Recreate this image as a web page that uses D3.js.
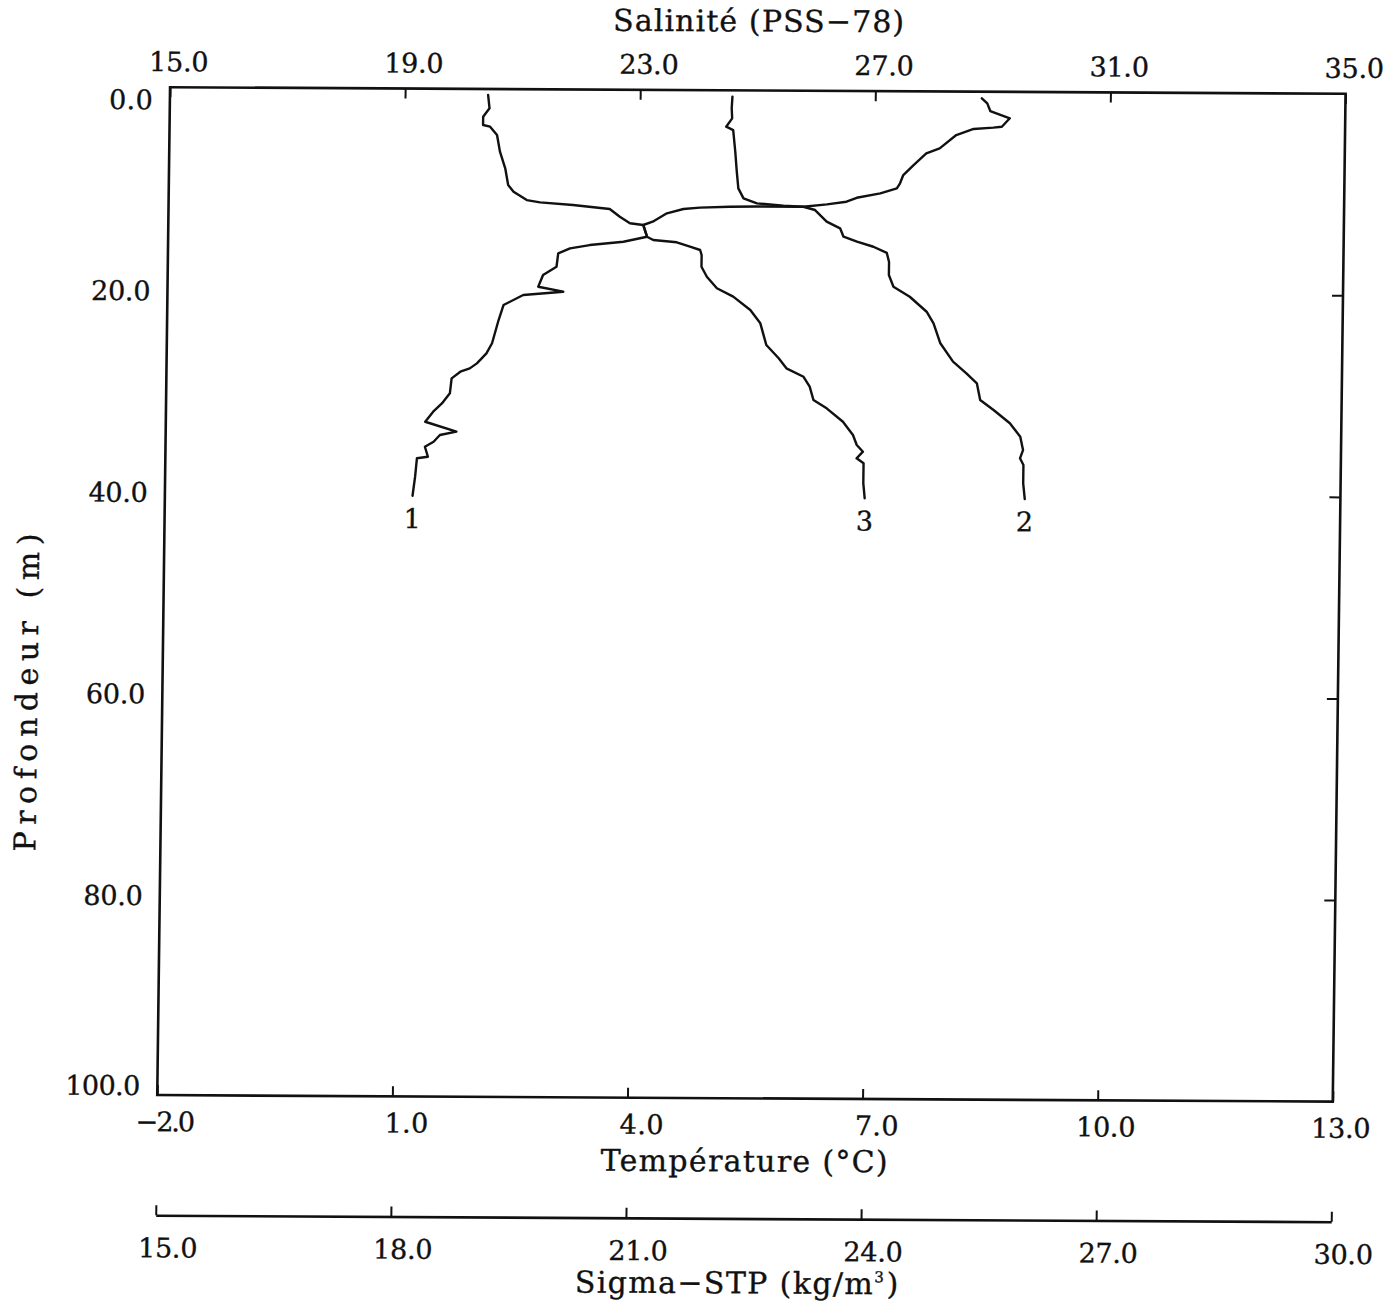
<!DOCTYPE html>
<html>
<head>
<meta charset="utf-8">
<script src="https://cdn.jsdelivr.net/npm/d3@7"></script>
<style>
  html, body { margin: 0; padding: 0; background: #fff; }
  svg { display: block; }
  text { font-family: "DejaVu Serif", "Liberation Serif", serif; font-size: 27px; fill: #111;
         stroke: #111; stroke-width: 0.35px; }
  text.title { font-size: 30px; }
</style>
</head>
<body>
<svg id="chart" width="1390" height="1302"></svg>
<script>
// CTD profiles, each point is [depth (m), value]
const temperature = [
  [0.65,8.36],[1.15,8.43],[1.91,8.47],[2.62,8.72],[3.46,8.62],[3.56,8.51],[3.70,8.26],
  [4.31,8.04],[5.64,7.83],[6.14,7.66],[7.31,7.50],[8.31,7.37],[9.13,7.33],[9.63,7.29],
  [10.14,7.08],[10.59,6.78],[10.99,6.65],[11.26,6.40],[11.51,6.10],[11.51,5.50],
  [11.55,5.16],[11.66,4.78],[11.80,4.57],[12.24,4.36],[13.08,4.18],[13.41,4.06],
  [14.57,4.11],[15.08,3.81],[15.43,3.38],[15.77,3.13],[16.27,2.98],[17.60,2.96],
  [18.43,2.79],[19.59,2.73],[20.07,3.05],[20.42,2.54],[21.43,2.29],[22.92,2.23],
  [25.23,2.15],[26.23,2.08],[27.23,1.96],[27.73,1.87],[28.07,1.75],[28.73,1.64],
  [30.22,1.62],[31.22,1.52],[32.05,1.41],[33.05,1.31],[34.02,1.71],[34.36,1.50],
  [35.03,1.42],[35.53,1.31],[36.52,1.35],[36.68,1.21],[38.51,1.19],[40.40,1.16]
];
const salinity = [
  [0.63,24.57],[1.78,24.56],[2.78,24.57],[3.61,24.47],[3.94,24.59],[6.09,24.63],
  [8.07,24.66],[9.72,24.69],[10.71,24.78],[11.20,25.01],[11.42,25.46],[11.51,25.80],
  [11.83,26.00],[12.98,26.20],[13.63,26.43],[14.46,26.49],[14.95,26.72],[15.44,27.00],
  [16.05,27.23],[16.95,27.27],[18.24,27.27],[19.40,27.35],[20.38,27.63],[21.86,27.92],
  [23.00,28.04],[24.98,28.16],[26.80,28.38],[27.95,28.61],[28.93,28.79],[30.59,28.85],
  [31.57,29.08],[32.88,29.36],[34.21,29.54],[35.53,29.59],[36.35,29.54],[37.01,29.60],
  [38.83,29.60],[40.40,29.63]
];
const sigmaT = [
  [0.60,19.06],[1.92,19.08],[2.75,19.00],[3.58,19.00],[3.74,19.09],[4.56,19.18],
  [6.22,19.22],[7.86,19.29],[9.52,19.33],[10.18,19.40],[11.00,19.57],[11.22,19.74],
  [11.47,20.16],[11.84,20.63],[12.60,20.76],[13.25,20.89],[13.41,21.06],[14.57,21.11],
  [14.89,21.19],[15.11,21.49],[15.54,21.66],[15.86,21.79],[16.36,21.81],[17.52,21.81],
  [18.51,21.88],[19.65,22.01],[20.47,22.22],[21.79,22.44],[23.10,22.57],[25.25,22.65],
  [26.56,22.81],[27.55,22.91],[28.38,23.13],[29.36,23.21],[30.68,23.26],[31.50,23.43],
  [32.82,23.64],[34.13,23.77],[35.12,23.82],[35.78,23.90],[36.44,23.82],[36.93,23.91],
  [38.92,23.91],[40.40,23.93]
];

// Axis ticks and labels
const depthTicks = [0, 20, 40, 60, 80, 100];
const tempTicks = [-2, 1, 4, 7, 10, 13];
const salTicks = [15, 19, 23, 27, 31, 35];
const sigmaTicks = [15, 18, 21, 24, 27, 30];
const profileNames = ["1", "2", "3"];
const titleTop = "Salinité (PSS\u221278)";
const titleBottom = "Température (°C)";
const titleSigma = "Sigma\u2212STP (kg/m";
const titleSigmaSup = "3";
const titleLeft = "Profondeur (m)";

// Plot frame
const W = 1175.5, H = 1007.85;
const fmt = d3.format(".1f");
// fixed-pitch look of the plotter lettering
const labelWidth = s => s.length * 15.6 - 3;

const y = d3.scaleLinear().domain([0, 100]).range([0, H]);
const xT = d3.scaleLinear().domain([-2, 13]).range([0, W]);
const xS = d3.scaleLinear().domain([15, 35]).range([0, W]);
const xSig = d3.scaleLinear().domain([15, 30]).range([0, W]);

const svg = d3.select("#chart");
// The plotted sheet sits slightly askew on the page
const g = svg.append("g")
  .attr("transform", "matrix(1,0.00557,-0.0127,1,170.05,87.2)");

const ink = "#111";

function styleAxis(sel) {
  sel.attr("font-size", null).attr("font-family", null);
  sel.selectAll(".tick line").attr("stroke", ink).attr("stroke-width", 2);
  sel.selectAll(".domain").attr("stroke", ink).attr("stroke-width", 2.6);
  sel.selectAll("text").attr("fill", ink)
    .attr("textLength", function () { return labelWidth(this.textContent); });
}

// Top: salinity
g.append("g")
  .call(d3.axisTop(xS).tickValues(salTicks).tickSizeInner(-10).tickSizeOuter(0)
    .tickPadding(16).tickFormat(fmt))
  .call(a => a.select(".domain").remove())
  .call(styleAxis)
  .call(a => a.selectAll("text").attr("dx", 8));

// Bottom: temperature
g.append("g")
  .attr("transform", `translate(0,${H})`)
  .call(d3.axisBottom(xT).tickValues(tempTicks).tickSizeInner(-10).tickSizeOuter(0)
    .tickPadding(17).tickFormat(fmt))
  .call(a => a.select(".domain").remove())
  .call(styleAxis)
  .call(a => a.selectAll("text").attr("dx", d => fmt(d).length < 4 ? 14 : 8));

// Right: depth ticks only
g.append("g")
  .attr("transform", `translate(${W},0)`)
  .call(d3.axisRight(y).tickValues(depthTicks.slice(1, -1)).tickSizeInner(-11)
    .tickSizeOuter(0).tickFormat(""))
  .call(a => a.select(".domain").remove())
  .call(styleAxis);

// Left: depth labels
g.append("g")
  .call(d3.axisLeft(y).tickValues(depthTicks).tickSize(0).tickPadding(17).tickFormat(fmt))
  .call(a => a.select(".domain").remove())
  .call(styleAxis)
  .call(a => a.selectAll("text")
    .attr("y", (d, i, n) => i === 0 ? 13 : (i === n.length - 1 ? -9 : 2.5)));

// Frame
g.append("rect")
  .attr("width", W).attr("height", H)
  .attr("fill", "none").attr("stroke", ink).attr("stroke-width", 2.6);

// Separate sigma-t scale below the plot
const sigmaY = 1128;
g.append("g")
  .attr("transform", `translate(0,${sigmaY})`)
  .call(d3.axisBottom(xSig).tickValues(sigmaTicks).tickSizeInner(-10).tickSizeOuter(0)
    .tickPadding(23).tickFormat(fmt))
  .call(styleAxis)
  .call(a => a.selectAll("text").attr("dx", 12));

// Profiles
const profiles = [
  { data: temperature, x: xT, name: profileNames[0] },
  { data: salinity, x: xS, name: profileNames[1] },
  { data: sigmaT, x: xSig, name: profileNames[2] }
];

profiles.forEach(p => {
  const line = d3.line().x(d => p.x(d[1])).y(d => y(d[0]));
  g.append("path")
    .datum(p.data)
    .attr("d", line)
    .attr("fill", "none")
    .attr("stroke", ink)
    .attr("stroke-width", 2.4)
    .attr("stroke-linejoin", "round")
    .attr("stroke-linecap", "round");
  const last = p.data[p.data.length - 1];
  g.append("text")
    .attr("x", p.x(last[1]))
    .attr("y", y(last[0] + 3.2))
    .attr("text-anchor", "middle")
    .text(p.name);
});

// Titles
g.append("text")
  .attr("class", "title")
  .attr("x", W / 2).attr("y", -59)
  .attr("text-anchor", "middle")
  .attr("textLength", 291)
  .text(titleTop);

g.append("text")
  .attr("class", "title")
  .attr("x", W / 2).attr("y", 1081)
  .attr("text-anchor", "middle")
  .attr("textLength", 287)
  .text(titleBottom);

const sig = g.append("text")
  .attr("class", "title")
  .attr("x", W / 2 - 6).attr("y", 1203)
  .attr("text-anchor", "middle");
sig.append("tspan").attr("textLength", 298).text(titleSigma);
sig.append("tspan").attr("dy", -12).style("font-size", "15px").text(titleSigmaSup);
sig.append("tspan").attr("dy", 12).attr("dx", 3).text(")");

g.append("text")
  .attr("class", "title")
  .attr("transform", "translate(-125,606) rotate(-90)")
  .attr("text-anchor", "middle")
  .attr("textLength", 318)
  .text(titleLeft);
</script>
</body>
</html>
